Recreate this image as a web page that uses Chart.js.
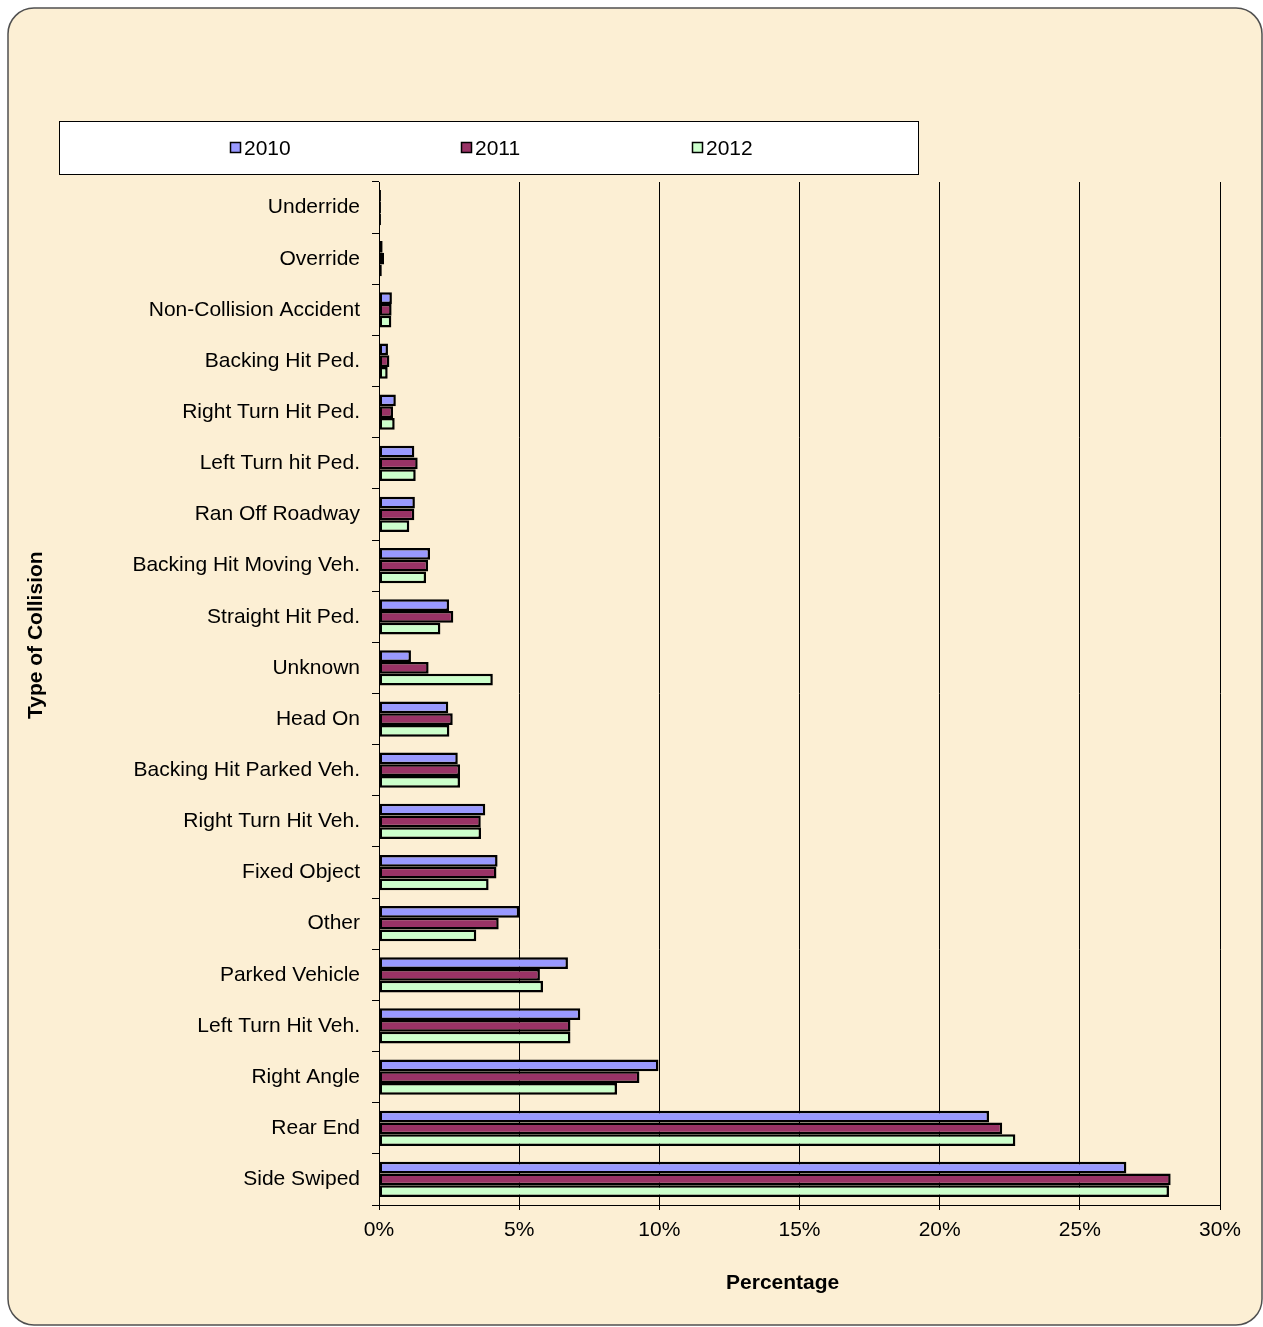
<!DOCTYPE html>
<html>
<head>
<meta charset="utf-8">
<title>Type of Collision</title>
<script src="https://cdn.jsdelivr.net/npm/chart.js@4.4.1/dist/chart.umd.min.js"></script>
<style>
  html, body { margin: 0; padding: 0; background: #fff; }
  #wrap { width: 1263px; height: 1327px; position: relative; }
</style>
</head>
<body>
<div id="wrap"><canvas id="chart" width="1263" height="1327"></canvas></div>
<script>
// collision types, top to bottom
var categories = [
  'Underride', 'Override', 'Non-Collision Accident', 'Backing Hit Ped.',
  'Right Turn Hit Ped.', 'Left Turn hit Ped.', 'Ran Off Roadway',
  'Backing Hit Moving Veh.', 'Straight Hit Ped.', 'Unknown', 'Head On',
  'Backing Hit Parked Veh.', 'Right Turn Hit Veh.', 'Fixed Object', 'Other',
  'Parked Vehicle', 'Left Turn Hit Veh.', 'Right Angle', 'Rear End', 'Side Swiped'
];

// share of collisions, percent
var pct2010 = [0.07, 0.13, 0.46, 0.32, 0.60, 1.26, 1.28, 1.82, 2.50, 1.14,
               2.47, 2.81, 3.79, 4.23, 5.00, 6.74, 7.18, 9.97, 21.76, 26.66];
var pct2011 = [0.07, 0.18, 0.45, 0.37, 0.50, 1.38, 1.26, 1.75, 2.65, 1.77,
               2.63, 2.89, 3.63, 4.19, 4.27, 5.74, 6.83, 9.29, 22.23, 28.24];
var pct2012 = [0.07, 0.10, 0.44, 0.31, 0.56, 1.31, 1.08, 1.68, 2.19, 4.06,
               2.51, 2.89, 3.64, 3.91, 3.47, 5.85, 6.83, 8.49, 22.70, 28.18];

var xTicks = [0, 5, 10, 15, 20, 25, 30];

var FONT = "'Liberation Sans', Arial, sans-serif";

// cream panel with rounded border, drawn under everything
var framePlugin = {
  id: 'frame',
  beforeDraw: function (chart) {
    var c = chart.ctx;
    c.save();
    c.fillStyle = '#ffffff';
    c.fillRect(0, 0, chart.width, chart.height);
    var x = 8, y = 8, w = chart.width - 1 - 8, h = chart.height - 2 - 8, r = 26;
    c.beginPath();
    c.moveTo(x + r, y);
    c.lineTo(x + w - r, y);
    c.arcTo(x + w, y, x + w, y + r, r);
    c.lineTo(x + w, y + h - r);
    c.arcTo(x + w, y + h, x + w - r, y + h, r);
    c.lineTo(x + r, y + h);
    c.arcTo(x, y + h, x, y + h - r, r);
    c.lineTo(x, y + r);
    c.arcTo(x, y, x + r, y, r);
    c.closePath();
    c.fillStyle = '#fcefd4';
    c.fill();
    c.lineWidth = 1.5;
    c.strokeStyle = '#505050';
    c.stroke();
    c.restore();
  }
};

// legend box and axis titles
var decorPlugin = {
  id: 'decor',
  afterDraw: function (chart) {
    var c = chart.ctx;
    var area = chart.chartArea;
    c.save();

    // legend
    var bx = 59.5, by = 121.5, bw = 859, bh = 53;
    c.fillStyle = '#ffffff';
    c.fillRect(bx, by, bw, bh);
    c.lineWidth = 1;
    c.strokeStyle = '#000000';
    c.strokeRect(bx, by, bw, bh);
    var step = 231;
    var mid = bx + bw / 2;
    c.font = '21px ' + FONT;
    c.textBaseline = 'middle';
    c.textAlign = 'left';
    chart.data.datasets.forEach(function (ds, i) {
      var ix = Math.round(mid + (i - 1) * step - 28);
      var cy = by + bh / 2;
      c.fillStyle = ds.backgroundColor;
      c.fillRect(ix + 0.5, cy - 5.5, 10, 10);
      c.lineWidth = 1.5;
      c.strokeStyle = '#000';
      c.strokeRect(ix + 0.5, cy - 5.5, 10, 10);
      c.fillStyle = '#000';
      c.fillText(ds.label, ix + 14, cy + 1);
    });

    // axis titles
    c.font = 'bold 21px ' + FONT;
    c.fillStyle = '#000';
    c.textAlign = 'center';
    c.textBaseline = 'middle';
    c.fillText('Percentage', area.left + (area.right - area.left) * 0.48, 1283);

    c.translate(36, area.top + (area.bottom - area.top) * 0.443);
    c.rotate(-Math.PI / 2);
    c.fillText('Type of Collision', 0, 0);
    c.restore();
  }
};

var bars = {
  barPercentage: 1.0,
  categoryPercentage: 0.69,
  borderWidth: 2.5,
  borderColor: '#000000',
  borderSkipped: false
};

new Chart(document.getElementById('chart').getContext('2d'), {
  type: 'bar',
  data: {
    labels: categories,
    datasets: [
      Object.assign({ label: '2010', data: pct2010, backgroundColor: '#9999ff' }, bars),
      Object.assign({ label: '2011', data: pct2011, backgroundColor: '#993366' }, bars),
      Object.assign({ label: '2012', data: pct2012, backgroundColor: '#ccffcc' }, bars)
    ]
  },
  options: {
    indexAxis: 'y',
    responsive: false,
    animation: false,
    layout: { padding: { left: 20, top: 182, right: 43, bottom: 30 } },
    plugins: {
      legend: { display: false },
      tooltip: { enabled: false }
    },
    scales: {
      x: {
        min: 0,
        max: 30,
        afterBuildTicks: function (scale) {
          scale.ticks = xTicks.map(function (v) { return { value: v }; });
        },
        afterFit: function (scale) { scale.height = 92; },
        ticks: {
          font: { size: 21, family: FONT },
          color: '#000',
          padding: 8,
          maxRotation: 0,
          callback: function (v) { return v + '%'; }
        },
        grid: { color: '#000', lineWidth: 1, tickLength: 5 },
        border: { color: '#000', width: 1 }
      },
      y: {
        afterFit: function (scale) { scale.width = 359; },
        ticks: {
          font: { size: 21, family: FONT },
          color: '#000',
          padding: 12,
          autoSkip: false
        },
        grid: { drawOnChartArea: false, color: '#000', tickLength: 7, offset: true },
        border: { color: '#000', width: 1 }
      }
    }
  },
  plugins: [framePlugin, decorPlugin]
});
</script>
</body>
</html>
